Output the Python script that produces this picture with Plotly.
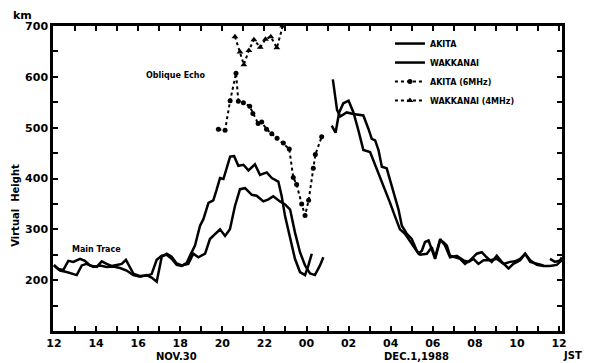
import plotly.graph_objects as go

# ---- data (hours from 12 JST Nov.30; 24 = 00 Dec.1) ----
akita_h = [12.0, 12.2, 12.44, 12.68, 12.92, 13.24, 13.47, 13.71, 14.03, 14.27, 14.5, 14.74, 14.98, 15.22,
           15.42, 15.61, 15.77, 16.09, 16.41, 16.64, 16.88, 17.12, 17.36, 17.59, 17.83, 18.07, 18.31, 18.46,
           18.70, 18.94, 19.10, 19.34, 19.57, 19.73, 19.89, 20.05, 20.21, 20.37, 20.56, 20.76, 21.0, 21.24,
           21.55, 21.79, 22.11, 22.35, 22.66, 22.82, 22.98, 23.22, 23.45, 23.69, 23.93, 24.09, 24.25, None,
           25.2, 25.38, 25.55, 25.75, 26.0, 26.23, 26.47, 26.7, 27.02, 27.26, 27.5, 27.73, 27.97, 28.2,
           28.44, 28.68, 29.08, 29.32, 29.48, 29.63, 29.8, 29.95, 30.11, 30.35, 30.5, 30.67, 30.82, 31.06,
           31.3, 31.53, 31.77, 32.09, 32.33, 32.56, 32.8, 33.04, 33.28, 33.6, 33.83, 34.15, 34.39, 34.63,
           34.94, 35.26, 35.57, 35.89, 36.13]
akita_km = [230, 222, 220, 238, 236, 242, 238, 229, 226, 237, 232, 228, 230, 232,
            240, 226, 213, 208, 209, 212, 240, 248, 250, 242, 230, 228, 234, 248,
            268, 307, 320, 352, 357, 378, 401, 399, 423, 443, 444, 425, 427, 416,
            428, 407, 412, 401, 394, 365, 326, 281, 242, 216, 210, 229, 252, None,
            504, 490, 530, 548, 553, 530, 494, 456, 452, 427, 404, 378, 352, 326,
            300, 291, 268, 252, 258, 275, 278, 261, 242, 278, 275, 268, 248, 245,
            242, 232, 239, 252, 255, 245, 236, 248, 236, 223, 232, 239, 252, 239,
            230, 228, 228, 230, 239]

wakk_h = [12.0, 12.29, 12.6, 12.84, 13.08, 13.32, 13.55, 13.87, 14.19, 14.5, 14.82, 15.14, 15.45, 15.77,
          16.09, 16.41, 16.64, 16.88, 17.12, 17.36, 17.59, 17.83, 18.07, 18.38, 18.62, 18.86, 19.18, 19.41,
          19.65, 19.89, 20.13, 20.36, 20.60, 20.84, 21.08, 21.40, 21.63, 21.95, 22.19, 22.42, 22.74, 22.98,
          23.22, 23.45, 23.69, 23.93, 24.17, 24.40, 24.64, 24.80, None,
          25.25, 25.45, 25.6, 25.91, 26.23, 26.7, 26.94, 27.1, 27.26, 27.42, 27.58, 27.81, 27.97, 28.13,
          28.37, 28.53, 28.77, 29.0, 29.24, 29.4, 29.72, 29.95, 30.11, 30.35, 30.58, 30.82, 31.14, 31.46,
          31.7, 31.93, 32.17, 32.41, 32.73, 33.04, 33.36, 33.67, 33.91, 34.15, 34.39, 34.63, 34.94, 35.26,
          None, 35.57, 35.81, 36.05, 36.13]
wakk_km = [229, 219, 216, 213, 210, 229, 232, 226, 229, 226, 227, 224, 219, 210,
           207, 210, 205, 197, 246, 252, 246, 233, 229, 232, 252, 245, 252, 281,
           291, 300, 287, 300, 346, 379, 381, 368, 366, 355, 359, 365, 355, 349,
           339, 294, 255, 229, 213, 210, 229, 245, None,
           595, 535, 522, 530, 527, 524, 498, 478, 475, 456, 423, 420, 397, 372,
           339, 307, 291, 281, 258, 250, 252, 265, 245, 281, 268, 245, 248, 239,
           236, 242, 232, 239, 239, 242, 232, 236, 237, 242, 252, 236, 232, 229,
           None, 242, 236, 239, 245]

akita6_h = [19.81, 20.13, 20.37, 20.65, 20.76, 21.0, 21.3, 21.45, 21.7, 21.87, 22.1, 22.35, 22.6,
            22.9, 23.18, 23.37, 23.53, 23.77, 23.93, 24.1, 24.32, 24.42, 24.72]
akita6_km = [497, 495, 553, 607, 552, 549, 542, 528, 508, 511, 497, 488, 479,
             470, 458, 402, 388, 350, 327, 357, 420, 447, 482]

wakk4_h = [20.6, 20.84, 21.02, 21.26, 21.5, 21.8, 22.05, 22.3, 22.59, 22.87]
wakk4_km = [679, 649, 624, 652, 673, 658, 674, 679, 657, 700]

tick_hours = [12, 14, 16, 18, 20, 22, 24, 26, 28, 30, 32, 34, 36]
tick_text = ["12", "14", "16", "18", "20", "22", "00", "02", "04", "06", "08", "10", "12"]
ytick_vals = [200, 300, 400, 500, 600, 700]

FONT = "DejaVu Sans"
BOLD = dict(family=FONT, weight="bold", color="black")

fig = go.Figure()
fig.add_trace(go.Scatter(x=akita_h, y=akita_km, mode="lines", name="AKITA",
                         line=dict(color="black", width=2.5), connectgaps=False))
fig.add_trace(go.Scatter(x=wakk_h, y=wakk_km, mode="lines", name="WAKKANAI",
                         line=dict(color="black", width=2.5), connectgaps=False))
fig.add_trace(go.Scatter(x=akita6_h, y=akita6_km, mode="lines+markers", name="AKITA (6MHz)",
                         line=dict(color="black", width=2, dash="dot"),
                         marker=dict(symbol="circle", size=5, color="black")))
fig.add_trace(go.Scatter(x=wakk4_h, y=wakk4_km, mode="lines+markers", name="WAKKANAI (4MHz)",
                         line=dict(color="black", width=2, dash="dot"),
                         marker=dict(symbol="triangle-up", size=6, color="black"), cliponaxis=False))

# page has an 8px body margin: figure is 590x355 so the plot area lands at 53..562 x 24..331
fig.update_layout(
    width=590, height=355,
    margin=dict(l=45, r=36, t=16, b=32),
    paper_bgcolor="white", plot_bgcolor="white",
    showlegend=True,
    legend=dict(x=0.662, y=0.99, xanchor="left", yanchor="top", bgcolor="rgba(0,0,0,0)",
                font=dict(size=8, **BOLD), itemwidth=30, tracegroupgap=0),
    xaxis=dict(range=[11.953, 36.14], tickmode="array", tickvals=tick_hours, ticktext=tick_text,
               ticks="inside", ticklen=5, tickwidth=1.5, tickcolor="black",
               showline=True, linewidth=2.5, linecolor="black", mirror="ticks",
               showgrid=False, zeroline=False, tickfont=dict(size=11, **BOLD),
               minor=dict(dtick=1, tick0=12, ticks="inside", ticklen=5, tickwidth=1.5, tickcolor="black")),
    yaxis=dict(range=[100, 700], tickmode="array", tickvals=ytick_vals,
               ticks="inside", ticklen=5, tickwidth=1.5, tickcolor="black",
               showline=True, linewidth=2.5, linecolor="black", mirror="ticks",
               showgrid=False, zeroline=False, tickfont=dict(size=11, **BOLD),
               minor=dict(dtick=50, tick0=100, ticks="inside", ticklen=5, tickwidth=1.5, tickcolor="black")),
)

# positions below are page pixels; plot area spans x 53..562, y 24..331
ann = [
    dict(text="km", x=22, y=13, size=11),
    dict(text="Main Trace", x=96, y=249, size=8),
    dict(text="Oblique Echo", x=176, y=74, size=8),
    dict(text="NOV.30", x=176, y=357, size=10),
    dict(text="DEC.1,1988", x=416, y=357, size=10),
    dict(text="JST", x=572, y=356, size=10),
]
for a in ann:
    fig.add_annotation(text=a["text"], xref="paper", yref="paper",
                       x=(a["x"] - 53) / 509, y=1 - (a["y"] - 24) / 307,
                       xanchor="center", yanchor="middle", showarrow=False,
                       font=dict(size=a["size"], **BOLD))
fig.add_annotation(text="Virtual  Height", xref="paper", yref="paper",
                   x=(16 - 53) / 509, y=1 - (205 - 24) / 307, textangle=-90,
                   xanchor="center", yanchor="middle", showarrow=False,
                   font=dict(size=10, **BOLD))

fig.write_html("out.html")
